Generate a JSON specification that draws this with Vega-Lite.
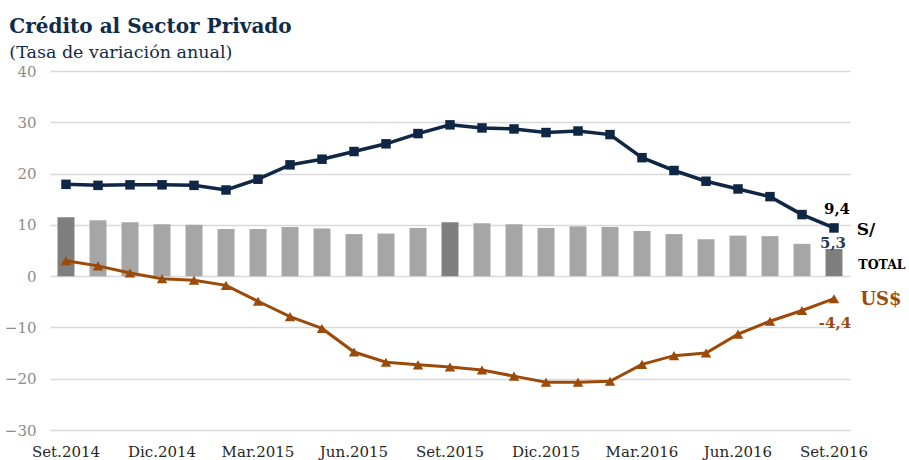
{
  "$schema": "https://vega.github.io/schema/vega-lite/v6.json",
  "width": 800,
  "height": 359,
  "autosize": {"type": "none"},
  "padding": {"left": 50, "top": 71, "right": 59, "bottom": 30},
  "background": "white",
  "title": {
    "text": "Crédito al Sector Privado",
    "subtitle": "(Tasa de variación anual)",
    "anchor": "start",
    "frame": "bounds",
    "font": "DejaVu Serif",
    "fontSize": 20,
    "fontWeight": "bold",
    "color": "#112B4A",
    "subtitleFont": "DejaVu Serif",
    "subtitleFontSize": 17.5,
    "subtitleColor": "#112B4A",
    "subtitlePadding": 7,
    "offset": 3,
    "dx": 5
  },
  "config": {
    "view": {"stroke": null},
    "font": "DejaVu Serif"
  },
  "data": {
    "values": [
      {"mes": "Set.2014", "total": 11.5, "soles": 17.9, "dolares": 3.0},
      {"mes": "Oct.2014", "total": 10.9, "soles": 17.7, "dolares": 2.0},
      {"mes": "Nov.2014", "total": 10.5, "soles": 17.8, "dolares": 0.6},
      {"mes": "Dic.2014", "total": 10.1, "soles": 17.8, "dolares": -0.5},
      {"mes": "Ene.2015", "total": 10.0, "soles": 17.7, "dolares": -0.8},
      {"mes": "Feb.2015", "total": 9.2, "soles": 16.8, "dolares": -1.8},
      {"mes": "Mar.2015", "total": 9.2, "soles": 18.9, "dolares": -4.9},
      {"mes": "Abr.2015", "total": 9.6, "soles": 21.7, "dolares": -7.9},
      {"mes": "May.2015", "total": 9.3, "soles": 22.8, "dolares": -10.2},
      {"mes": "Jun.2015", "total": 8.2, "soles": 24.3, "dolares": -14.8},
      {"mes": "Jul.2015", "total": 8.3, "soles": 25.8, "dolares": -16.8},
      {"mes": "Ago.2015", "total": 9.4, "soles": 27.8, "dolares": -17.3},
      {"mes": "Set.2015", "total": 10.5, "soles": 29.5, "dolares": -17.7},
      {"mes": "Oct.2015", "total": 10.3, "soles": 28.9, "dolares": -18.3},
      {"mes": "Nov.2015", "total": 10.1, "soles": 28.7, "dolares": -19.5},
      {"mes": "Dic.2015", "total": 9.4, "soles": 28.0, "dolares": -20.7},
      {"mes": "Ene.2016", "total": 9.7, "soles": 28.3, "dolares": -20.7},
      {"mes": "Feb.2016", "total": 9.6, "soles": 27.6, "dolares": -20.5},
      {"mes": "Mar.2016", "total": 8.8, "soles": 23.1, "dolares": -17.2},
      {"mes": "Abr.2016", "total": 8.2, "soles": 20.6, "dolares": -15.5},
      {"mes": "May.2016", "total": 7.2, "soles": 18.5, "dolares": -15.0},
      {"mes": "Jun.2016", "total": 7.9, "soles": 17.0, "dolares": -11.3},
      {"mes": "Jul.2016", "total": 7.8, "soles": 15.5, "dolares": -8.8},
      {"mes": "Ago.2016", "total": 6.3, "soles": 12.0, "dolares": -6.7},
      {"mes": "Set.2016", "total": 5.3, "soles": 9.4, "dolares": -4.4}
    ]
  },
  "encoding": {
    "x": {
      "field": "mes",
      "type": "nominal",
      "sort": null,
      "scale": {"paddingInner": 0.47, "paddingOuter": 0.235},
      "axis": {
        "title": null,
        "values": ["Set.2014", "Dic.2014", "Mar.2015", "Jun.2015", "Set.2015", "Dic.2015", "Mar.2016", "Jun.2016", "Set.2016"],
        "labelAngle": 0,
        "domain": false,
        "ticks": false,
        "grid": false,
        "labelFont": "DejaVu Serif",
        "labelFontSize": 15,
        "labelColor": "#262626",
        "labelPadding": 14
      }
    }
  },
  "layer": [
    {
      "mark": {"type": "bar"},
      "encoding": {
        "y": {
          "field": "total",
          "type": "quantitative",
          "scale": {"domain": [-30, 40], "nice": false},
          "axis": {
            "title": null,
            "values": [-30, -20, -10, 0, 10, 20, 30, 40],
            "domain": false,
            "ticks": false,
            "gridColor": "#D9D9D9",
            "gridWidth": 1.5,
            "labelFont": "DejaVu Serif",
            "labelFontSize": 15,
            "labelColor": "#8C8C8C",
            "labelPadding": 14
          }
        },
        "color": {
          "condition": {
            "test": "datum.mes === 'Set.2014' || datum.mes === 'Set.2015' || datum.mes === 'Set.2016'",
            "value": "#7F7F7F"
          },
          "value": "#A6A6A6"
        }
      }
    },
    {
      "mark": {"type": "line", "color": "#0F2745", "strokeWidth": 3.5, "point": {"shape": "square", "size": 90, "color": "#0F2745"}},
      "encoding": {"y": {"field": "soles", "type": "quantitative"}}
    },
    {
      "mark": {"type": "line", "color": "#9C4A0A", "strokeWidth": 3, "point": {"shape": "triangle-up", "size": 110, "color": "#9C4A0A"}},
      "encoding": {"y": {"field": "dolares", "type": "quantitative"}}
    },
    {
      "transform": [{"filter": "datum.mes === 'Set.2016'"}],
      "layer": [
        {
          "mark": {"type": "text", "font": "DejaVu Serif", "fontSize": 15, "fontWeight": "bold", "color": "#000000", "dx": 3, "dy": -19},
          "encoding": {"y": {"field": "soles", "type": "quantitative"}, "text": {"value": "9,4"}}
        },
        {
          "mark": {"type": "text", "font": "DejaVu Serif", "fontSize": 17, "fontWeight": "bold", "color": "#000000", "dx": 32, "dy": 2},
          "encoding": {"y": {"field": "soles", "type": "quantitative"}, "text": {"value": "S/"}}
        },
        {
          "mark": {"type": "text", "font": "DejaVu Serif", "fontSize": 15, "fontWeight": "bold", "color": "#1F3A60", "dx": -1, "dy": -6},
          "encoding": {"y": {"field": "total", "type": "quantitative"}, "text": {"value": "5,3"}}
        },
        {
          "mark": {"type": "text", "font": "DejaVu Serif", "fontSize": 12.5, "fontWeight": "bold", "color": "#000000", "dx": 48, "dy": 16},
          "encoding": {"y": {"field": "total", "type": "quantitative"}, "text": {"value": "TOTAL"}}
        },
        {
          "mark": {"type": "text", "font": "DejaVu Serif", "fontSize": 18, "fontWeight": "bold", "color": "#9C4A0A", "dx": 47, "dy": 1},
          "encoding": {"y": {"field": "dolares", "type": "quantitative"}, "text": {"value": "US$"}}
        },
        {
          "mark": {"type": "text", "font": "DejaVu Serif", "fontSize": 15, "fontWeight": "bold", "color": "#9C4A0A", "dx": 1, "dy": 24},
          "encoding": {"y": {"field": "dolares", "type": "quantitative"}, "text": {"value": "-4,4"}}
        }
      ]
    }
  ]
}
